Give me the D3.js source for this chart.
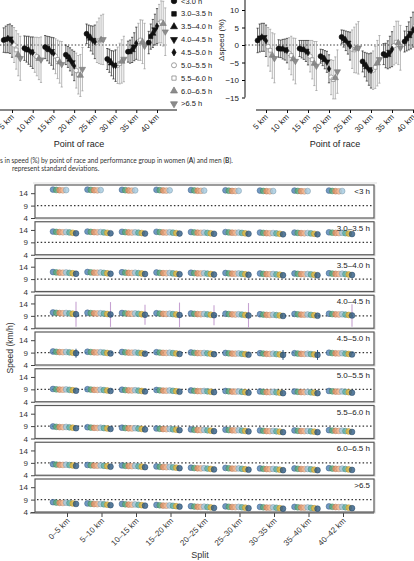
<!DOCTYPE html>
<html>
<head>
<meta charset="utf-8">
<script src="https://cdn.jsdelivr.net/npm/d3@7"></script>
<style>
  body { margin: 0; background: #fff; }
  svg { display: block; font-family: "Liberation Sans", Arial, sans-serif; }
</style>
</head>
<body>
<div id="container"></div>
<script>
/* CONSTANTS AND GLOBALS */
const width = 414, height = 561;

/* DATA - top panels, change in speed (%) */
const racePoints = [5, 10, 15, 20, 25, 30, 35, 40];
const paceGroups = ["<3.0 h", "3.0–3.5 h", "3.5–4.0 h", "4.0–4.5 h", "4.5–5.0 h",
  "5.0–5.5 h", "5.5–6.0 h", "6.0–6.5 h", ">6.5 h"];
const deltaTicks = [10, 5, 0, -5, -10, -15];

// one row per point of race, one value per pace group
const womenDelta = [
  [1.4, 1.6, 1.8, 1.8, 1.0, 0.0, -1.4, -2.8, -3.8],
  [-0.9, -1.2, -1.5, -1.9, -2.2, -2.8, -3.3, -3.9, -4.2],
  [-0.6, -1.0, -1.4, -1.8, -2.4, -3.2, -4.1, -4.9, -5.5],
  [-2.8, -3.4, -4.1, -5.0, -6.0, -7.3, -8.5, -8.7, -6.9],
  [3.2, 2.5, 1.9, 1.4, 0.9, 0.8, 1.2, 1.5, 1.6],
  [-4.0, -4.5, -5.2, -5.7, -5.9, -5.8, -5.3, -4.7, -4.0],
  [-1.9, -1.9, -1.4, -0.5, 0.5, 0.9, 1.4, 0.9, -0.3],
  [0.7, 2.4, 3.3, 4.4, 5.4, 6.1, 6.6, 6.1, 3.8]
];
const womenSD = [
  [3.5, 3.8, 4.0, 4.2, 4.5, 5.0, 5.5, 6.0, 6.3],
  [3.5, 3.7, 4.0, 4.2, 4.5, 5.0, 5.5, 6.0, 6.5],
  [3.3, 3.5, 3.8, 4.0, 4.5, 5.0, 5.5, 6.0, 6.5],
  [2.8, 3.0, 3.3, 3.6, 4.2, 5.0, 5.5, 6.0, 6.2],
  [2.8, 3.2, 3.6, 4.0, 4.8, 5.8, 6.5, 7.0, 7.2],
  [3.0, 3.3, 3.6, 4.0, 4.5, 5.2, 5.8, 6.2, 6.5],
  [3.0, 3.3, 3.6, 4.0, 4.6, 5.3, 5.8, 6.2, 6.5],
  [3.2, 3.6, 4.0, 4.4, 5.0, 5.5, 6.0, 6.4, 6.8]
];
const menDelta = [
  [1.3, 2.0, 2.2, 2.2, 1.2, -0.5, -1.5, -3.0, -3.8],
  [-1.0, -1.1, -1.2, -1.3, -1.6, -2.4, -3.0, -4.0, -4.6],
  [-1.0, -1.2, -1.4, -1.7, -2.2, -3.2, -4.2, -5.3, -6.0],
  [-3.2, -3.6, -4.2, -4.8, -6.8, -9.2, -9.9, -9.4, -7.6],
  [2.3, 1.8, 1.2, 0.6, -0.3, -1.2, -1.4, -1.0, -0.8],
  [-4.7, -5.6, -6.3, -7.0, -7.3, -7.2, -6.4, -5.2, -4.1],
  [-2.6, -3.0, -2.8, -2.0, -1.2, -0.2, 0.8, 0.6, -0.8],
  [1.0, 1.8, 2.6, 3.4, 4.4, 5.4, 6.2, 6.8, 5.5]
];
const menSD = [
  [3.5, 4.0, 4.0, 4.0, 4.5, 5.5, 6.0, 6.5, 7.0],
  [2.5, 2.5, 2.8, 3.0, 3.5, 4.5, 5.5, 6.0, 6.5],
  [2.3, 2.5, 2.7, 3.0, 3.5, 4.5, 5.5, 6.3, 7.0],
  [2.0, 2.3, 2.6, 3.0, 4.0, 5.0, 5.5, 6.0, 6.2],
  [2.0, 2.4, 2.8, 3.2, 4.0, 5.5, 6.5, 7.0, 7.5],
  [3.0, 3.5, 4.0, 4.5, 5.0, 5.5, 6.0, 6.5, 6.8],
  [3.0, 3.5, 4.0, 4.5, 5.0, 5.5, 6.0, 6.2, 6.4],
  [3.0, 3.5, 4.0, 4.5, 5.0, 5.5, 6.0, 6.5, 7.0]
];

/* DATA - bottom panel, speed (km/h) per split */
const splits = ["0–5 km", "5–10 km", "10–15 km", "15–20 km", "20–25 km",
  "25–30 km", "30–35 km", "35–40 km", "40–42 km"];
const facetLabels = ["<3 h", "3.0–3.5 h", "3.5–4.0 h", "4.0–4.5 h", "4.5–5.0 h",
  "5.0–5.5 h", "5.5–6.0 h", "6.0–6.5 h", ">6.5"];
const speedTicks = [4, 9, 14];
const refSpeed = 9;
// mean speed of each finish-time group (rows) at each split (columns)
const splitSpeed = [
  [15.2, 15.2, 15.1, 15.1, 15.0, 14.9, 14.8, 14.8, 14.8],
  [13.1, 13.1, 13.0, 13.0, 12.9, 12.9, 12.7, 12.7, 12.8],
  [11.6, 11.6, 11.5, 11.4, 11.3, 11.2, 11.0, 11.0, 11.1],
  [10.1, 10.0, 9.9, 9.8, 9.7, 9.6, 9.4, 9.5, 9.6],
  [9.2, 9.1, 9.0, 8.9, 8.8, 8.6, 8.5, 8.5, 8.7],
  [8.9, 8.8, 8.6, 8.5, 8.3, 8.1, 7.9, 7.9, 8.1],
  [8.6, 8.3, 8.1, 7.8, 7.4, 7.3, 7.0, 7.0, 7.1],
  [8.2, 7.9, 7.7, 7.3, 6.8, 6.7, 6.5, 6.5, 6.6],
  [7.7, 7.2, 7.0, 6.6, 6.1, 6.0, 5.8, 5.8, 6.0]
];
// small per-cohort deviation from the group mean (km/h)
const cohortShift = [0.25, 0.1, 0.0, -0.05, 0.05, -0.1, -0.25, -0.45];
const cohortColors = ["#4f7fb3", "#5cae7c", "#ec9467", "#f2b892", "#a3c9e0", "#5fb0a2", "#e6b83c", "#2d5a84"];
const cohortsShown = [5, 8, 8, 8, 8, 8, 8, 8, 8];
// standard deviations of the last cohort, visible in two groups
const sdLast40 = [5, 5, 4, 5, 4, 5, 0, 0, 4.5];
const sdLast45 = [1.8, 0, 0, 0, 0, 0, 2, 2, 0];

/* SVG */
const svg = d3.select("#container").append("svg")
  .attr("width", width)
  .attr("height", height);

/* TOP PANELS */
const yD = d3.scaleLinear().domain([0, 10]).range([45, 10]);
const xA = d3.scaleLinear().domain([5, 40]).range([12, 157]);
const xB = d3.scaleLinear().domain([5, 40]).range([266, 413]);

const symbolFor = [d3.symbolCircle, d3.symbolSquare, d3.symbolTriangle, d3.symbolTriangle,
  d3.symbolDiamond, d3.symbolCircle, d3.symbolSquare, d3.symbolTriangle, d3.symbolTriangle];
const symbolSize = [20, 17, 17, 17, 11, 16, 14, 17, 17];
const flipped = i => i === 3 || i === 8;
const markFill = i => i < 5 ? "#111" : (i === 5 || i === 6 ? "#fff" : "#8c8c8c");
const markStroke = i => i < 5 ? "#111" : "#7a7a7a";
const barColor = i => i < 5 ? "#222" : "#9a9a9a";

function drawDelta(x, delta, sd, lineX0, lineX1, axisX0) {
  const g = svg.append("g");

  g.append("line")
    .attr("x1", lineX0).attr("x2", lineX1)
    .attr("y1", yD(0)).attr("y2", yD(0))
    .attr("stroke", "#333").attr("stroke-width", 1)
    .attr("stroke-dasharray", "1.4,2");

  const rows = [];
  racePoints.forEach((p, pi) => {
    paceGroups.forEach((grp, gi) => {
      rows.push({ km: p + (gi - 4) * 0.5, m: delta[pi][gi], s: sd[pi][gi], gi });
    });
  });

  // error bars, grey groups first
  const ordered = rows.slice().sort((a, b) => (a.gi < 5) - (b.gi < 5));
  const bars = g.selectAll("g.bar").data(ordered).join("g").attr("class", "bar")
    .attr("stroke", d => barColor(d.gi)).attr("stroke-width", 0.7);
  bars.append("line")
    .attr("x1", d => x(d.km)).attr("x2", d => x(d.km))
    .attr("y1", d => yD(d.m - d.s)).attr("y2", d => yD(d.m + d.s));
  bars.append("line")
    .attr("x1", d => x(d.km) - 1.1).attr("x2", d => x(d.km) + 1.1)
    .attr("y1", d => yD(d.m + d.s)).attr("y2", d => yD(d.m + d.s));
  bars.append("line")
    .attr("x1", d => x(d.km) - 1.1).attr("x2", d => x(d.km) + 1.1)
    .attr("y1", d => yD(d.m - d.s)).attr("y2", d => yD(d.m - d.s));

  g.selectAll("path.mark").data(ordered).join("path").attr("class", "mark")
    .attr("d", d => d3.symbol().type(symbolFor[d.gi]).size(symbolSize[d.gi])())
    .attr("transform", d => `translate(${x(d.km)},${yD(d.m)})` + (flipped(d.gi) ? " rotate(180)" : ""))
    .attr("fill", d => markFill(d.gi))
    .attr("stroke", d => markStroke(d.gi))
    .attr("stroke-width", 0.6);

  // x axis
  const ax = g.append("g")
    .attr("transform", "translate(0,110)")
    .call(d3.axisBottom(x).tickValues(racePoints).tickFormat(d => d + " km").tickSize(3))
    .call(a => a.select(".domain").remove());
  ax.append("line").attr("x1", axisX0).attr("x2", lineX1 + 10)
    .attr("stroke", "#111").attr("stroke-width", 1);
  ax.selectAll(".tick line").attr("stroke", "#111");
  ax.selectAll("text")
    .attr("x", -4).attr("y", 4).attr("dy", "0.35em")
    .attr("transform", "rotate(-45)")
    .attr("text-anchor", "end")
    .attr("fill", "#222")
    .style("font-size", "8px");
  return g;
}

drawDelta(xA, womenDelta, womenSD, 0, 167, -5);
drawDelta(xB, menDelta, menSD, 245, 414, 256);

// y axis of panel B
const yAx = svg.append("g")
  .attr("transform", "translate(245,0)")
  .call(d3.axisLeft(yD).tickValues(deltaTicks).tickSize(3)
    .tickFormat(d => d < 0 ? "−" + Math.abs(d) : d))
  .call(a => a.select(".domain").remove());
yAx.append("line").attr("y1", -5).attr("y2", yD(-15)).attr("stroke", "#111");
yAx.selectAll("text").attr("fill", "#222").style("font-size", "8px");
svg.append("text")
  .attr("transform", "translate(224,40) rotate(-90)")
  .attr("text-anchor", "middle")
  .style("font-size", "8px").attr("fill", "#222")
  .text("Δspeed (%)");

svg.append("text").attr("x", 79).attr("y", 147).attr("text-anchor", "middle")
  .style("font-size", "9px").attr("fill", "#222").text("Point of race");
svg.append("text").attr("x", 335).attr("y", 147).attr("text-anchor", "middle")
  .style("font-size", "9px").attr("fill", "#222").text("Point of race");

// legend of panel A
const leg = svg.append("g").selectAll("g").data(paceGroups).join("g")
  .attr("transform", (d, i) => `translate(174,${1 + i * 12.85})`);
leg.append("path")
  .attr("d", (d, i) => d3.symbol().type(symbolFor[i]).size(symbolSize[i] + 4)())
  .attr("transform", (d, i) => flipped(i) ? "rotate(180)" : null)
  .attr("fill", (d, i) => markFill(i))
  .attr("stroke", (d, i) => markStroke(i))
  .attr("stroke-width", 0.7);
leg.append("text").attr("x", 7).attr("dy", "0.35em")
  .style("font-size", "7.5px").attr("fill", "#222").text(d => d);

// caption fragment
const cap = svg.append("g").style("font-family", "Lato, 'Open Sans', sans-serif")
  .style("font-size", "6.6px").attr("fill", "#333");
const c1 = cap.append("text").attr("x", 0).attr("y", 163);
c1.append("tspan").text("s in speed (%) by point of race and performance group in women (");
c1.append("tspan").style("font-weight", "bold").text("A");
c1.append("tspan").text(") and men (");
c1.append("tspan").style("font-weight", "bold").text("B");
c1.append("tspan").text(").");
cap.append("text").attr("x", 12).attr("y", 171).text("represent standard deviations.");

/* BOTTOM PANEL */
const fx0 = 35, fx1 = 374, fH = 33, fStep = 36.75, fTop0 = 185;
const xS = d3.scalePoint().domain(splits).range([67, 343]);
const cohortX = d3.scaleLinear().domain([0, 7]).range([-14, 9]);

svg.append("line").attr("x1", 33).attr("x2", 377).attr("y1", 183).attr("y2", 183)
  .attr("stroke", "#ddd").attr("stroke-width", 1);

facetLabels.forEach((label, fi) => {
  const top = fTop0 + fi * fStep;
  const y = d3.scaleLinear().domain([4, 17.3]).range([top + fH, top]);
  const g = svg.append("g");

  g.append("rect").attr("x", fx0 + 1).attr("y", top + 1).attr("width", fx1 - fx0).attr("height", fH)
    .attr("fill", "none").attr("stroke", "#d4d4d4").attr("stroke-width", 1);
  g.append("rect").attr("x", fx0).attr("y", top).attr("width", fx1 - fx0).attr("height", fH)
    .attr("fill", "#fff").attr("stroke", "#5a5a5a").attr("stroke-width", 1.2);

  g.append("line").attr("x1", fx0 + 2).attr("x2", fx1 - 2)
    .attr("y1", y(refSpeed)).attr("y2", y(refSpeed))
    .attr("stroke", "#333").attr("stroke-width", 1.2).attr("stroke-dasharray", "1.5,2.2");

  const pts = [];
  splits.forEach((s, si) => {
    for (let c = 0; c < cohortsShown[fi]; c++) {
      pts.push({ s, c, v: splitSpeed[fi][si] + cohortShift[c], si });
    }
  });

  const sdLast = fi === 3 ? sdLast40 : (fi === 4 ? sdLast45 : null);
  if (sdLast) {
    g.selectAll("line.sd").data(splits).join("line").attr("class", "sd")
      .attr("x1", s => xS(s) + cohortX(7)).attr("x2", s => xS(s) + cohortX(7))
      .attr("y1", (s, si) => Math.min(top + fH, y(splitSpeed[fi][si] + cohortShift[7] - sdLast[si])))
      .attr("y2", (s, si) => Math.max(top, y(splitSpeed[fi][si] + cohortShift[7] + sdLast[si])))
      .attr("stroke", fi === 3 ? "#c6a2d2" : "#2d5a84")
      .attr("stroke-width", fi === 3 ? 1.1 : 1)
      .attr("opacity", (s, si) => sdLast[si] > 0 ? 1 : 0);
  }

  g.selectAll("circle").data(pts).join("circle")
    .attr("cx", d => xS(d.s) + cohortX(d.c))
    .attr("cy", d => y(d.v))
    .attr("r", 2.9)
    .attr("fill", d => cohortColors[d.c])
    .attr("fill-opacity", 0.8)
    .attr("stroke", d => d3.color(cohortColors[d.c]).darker(0.8))
    .attr("stroke-width", 0.5);

  g.append("text").attr("x", fx1 - 4).attr("y", top + 9)
    .attr("text-anchor", "end").style("font-size", "8px").attr("fill", "#222")
    .text(label);

  const ya = g.append("g").attr("transform", `translate(${fx0},0)`)
    .call(d3.axisLeft(y).tickValues(speedTicks).tickSize(4))
    .call(a => a.select(".domain").remove());
  ya.selectAll("line").attr("stroke", "#444");
  ya.selectAll("text").style("font-size", "8px").attr("fill", "#333");
});

// bottom x axis
const xa = svg.append("g").attr("transform", "translate(0,513)")
  .call(d3.axisBottom(xS).tickSize(4))
  .call(a => a.select(".domain").remove());
xa.append("line").attr("x1", 30).attr("x2", fx1).attr("stroke", "#555").attr("stroke-width", 1);
xa.selectAll(".tick line").attr("stroke", "#444");
xa.selectAll("text")
  .attr("x", -4).attr("y", 5).attr("dy", "0.35em")
  .attr("transform", "rotate(-45)")
  .attr("text-anchor", "end")
  .attr("fill", "#333")
  .style("font-size", "8px");

svg.append("text")
  .attr("transform", "translate(13,348) rotate(-90)")
  .attr("text-anchor", "middle").style("font-size", "8.5px").attr("fill", "#333")
  .text("Speed (km/h)");
svg.append("text").attr("x", 200).attr("y", 558).attr("text-anchor", "middle")
  .style("font-size", "9px").attr("fill", "#333").text("Split");
</script>
</body>
</html>
